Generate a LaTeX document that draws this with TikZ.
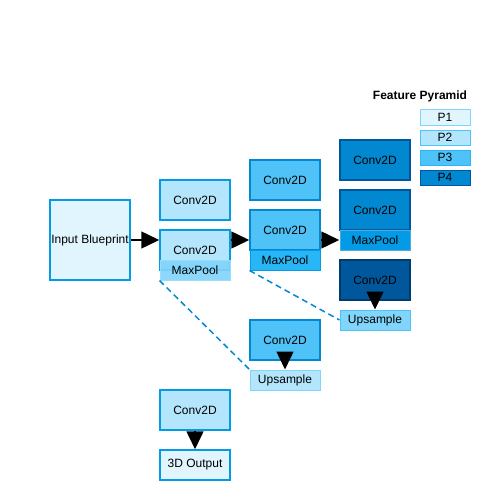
\documentclass[tikz,border=0pt]{standalone}
\usepackage{fontspec}
\setmainfont{Liberation Sans}
\usetikzlibrary{arrows.meta}
\definecolor{pa}{HTML}{E1F5FE}
\definecolor{pb}{HTML}{B3E5FC}
\definecolor{pc}{HTML}{4FC3F7}
\definecolor{pd}{HTML}{0288D1}
\definecolor{pe}{HTML}{01579B}
\definecolor{lb}{HTML}{81D4FA}
\definecolor{mb}{HTML}{29B6F6}
\definecolor{eb}{HTML}{039BE5}
\definecolor{db}{HTML}{003C70}
\tikzset{
  blk/.style={draw,line width=1.5pt,minimum width=70pt,minimum height=40pt,inner sep=0pt,font=\fontsize{12}{14}\selectfont},
  pool/.style={draw,line width=1pt,minimum width=70pt,minimum height=20pt,inner sep=0pt,font=\fontsize{12}{14}\selectfont},
  key/.style={draw,line width=1pt,minimum width=50pt,minimum height=15pt,inner sep=0pt,font=\fontsize{12}{14}\selectfont},
  flow/.style={line width=1.5pt,-{Triangle[length=18pt,width=17pt]}},
  skip/.style={draw=pd,line width=1.5pt,dash pattern=on 6pt off 4pt}
}
\begin{document}
\begin{tikzpicture}[x=1pt,y=-1pt]
    \useasboundingbox (0,0) rectangle (500,500);
    \node[blk,fill=pa,draw=eb,minimum width=80pt,minimum height=80pt](inp)at(90,240){Input Blueprint};
    % level 1
    \node[blk,fill=pb,draw=eb](c1a)at(195,200){Conv2D};
    \node[blk,fill=pb,draw=eb](c1b)at(195,250){Conv2D};
    \node[pool,fill=lb,draw=lb!80!white,fill opacity=0.9,text opacity=1](m1)at(195,270){MaxPool};
    % level 2
    \node[blk,fill=pc,draw=pd](c2a)at(285,180){Conv2D};
    \node[blk,fill=pc,draw=pd](c2b)at(285,230){Conv2D};
    \node[pool,fill=mb,draw=eb](m2)at(285,260){MaxPool};
    % level 3
    \node[blk,fill=pd,draw=pe](c3a)at(375,160){Conv2D};
    \node[blk,fill=pd,draw=pe](c3b)at(375,210){Conv2D};
    \node[pool,fill=eb,draw=pd!70!white](m3)at(375,240){MaxPool};
    \node[blk,fill=pe,draw=db](c4)at(375,280){Conv2D};
    \node[pool,fill=lb,draw=pc](u3)at(375,320){Upsample};
    % decoder
    \node[blk,fill=pc,draw=pd](c5)at(285,340){Conv2D};
    \node[pool,fill=pb,draw=lb](u2)at(285,380){Upsample};
    \node[blk,fill=pb,draw=eb](c6)at(195,410){Conv2D};
    \node[pool,fill=pa,draw=eb,minimum height=30pt,line width=1.5pt](out)at(195,465){3D Output};
    % legend
    \node[font=\bfseries\fontsize{12}{14}\selectfont](leg)at(420,96){Feature Pyramid};
    \node[key,fill=pa,draw=lb](k1)at(445,117.5){P1};
    \node[key,fill=pb,draw=pc](k2)at(445,137.5){P2};
    \node[key,fill=pc,draw=mb](k3)at(445,157.5){P3};
    \node[key,fill=pd,draw=pe](k4)at(445,177.5){P4};
    % arrows
    \draw[flow] (inp.east) -- (c1b.west|-inp.east);
    \draw[flow] (c1b.east|-inp.east) -- (c2b.west|-inp.east);
    \draw[flow] (c2b.east|-inp.east) -- (c3b.west|-inp.east);
    \draw[flow] (c4.south) -- (u3.north);
    \draw[flow] (c5.south) -- (u2.north);
    \draw[flow] (c6.south) -- (out.north);
    \draw[skip] (m2.south west) -- (u3.west);
    \draw[skip] (m1.south west) -- (u2.north west);
\end{tikzpicture}
\end{document}
